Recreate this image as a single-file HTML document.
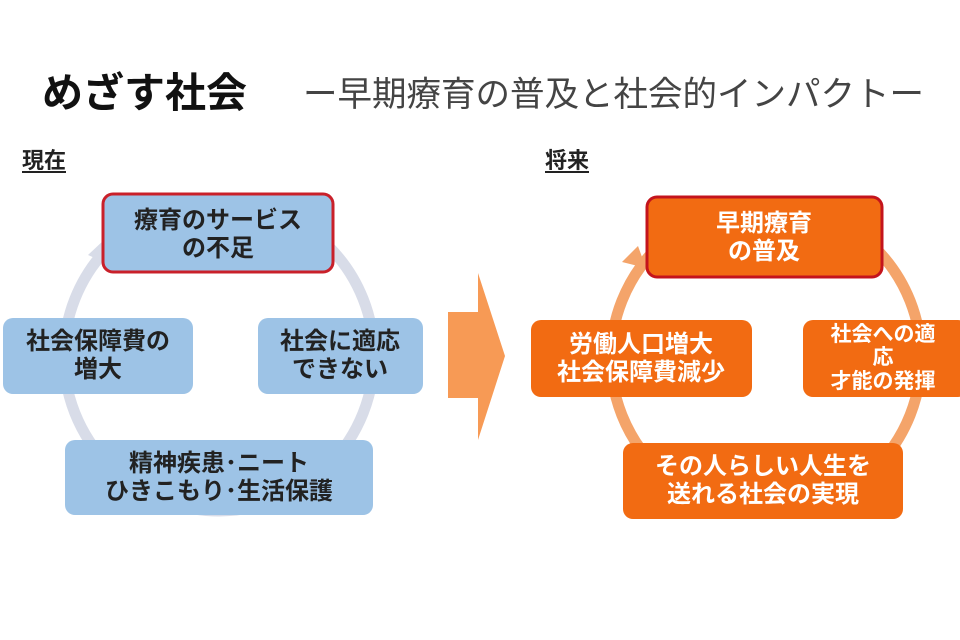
<!DOCTYPE html>
<html><head><meta charset="utf-8"><style>
body{margin:0;background:#fff;width:960px;height:640px;overflow:hidden}
svg{display:block}
text{font-family:"Liberation Sans","Noto Sans CJK JP",sans-serif}
</style></head><body>
<svg width="960" height="640" viewBox="0 0 960 640">
<text x="42" y="107" font-size="41" font-weight="bold" fill="#111">めざす社会</text>
<text x="303" y="106" font-size="34.5" fill="#444">ー早期療育の普及と社会的インパクトー</text>
<text x="22" y="168" font-size="22" font-weight="bold" fill="#222">現在</text>
<line x1="22" y1="172" x2="66" y2="172" stroke="#222" stroke-width="2"/>
<text x="545" y="168" font-size="22" font-weight="bold" fill="#222">将来</text>
<line x1="545" y1="172" x2="589" y2="172" stroke="#222" stroke-width="2"/>

<circle cx="219" cy="356" r="155" fill="none" stroke="#d8dce8" stroke-width="11"/>
<polygon points="88,255 104,240 104,262" fill="#d8dce8"/>
<rect x="103" y="194" width="230" height="78" rx="10" fill="#9dc3e6" stroke="#c9202a" stroke-width="3"/>
<text x="218" y="228" font-size="24" font-weight="bold" fill="#222" text-anchor="middle">療育のサービス</text>
<text x="218" y="256" font-size="24" font-weight="bold" fill="#222" text-anchor="middle">の不足</text>
<rect x="3" y="318" width="190" height="76" rx="10" fill="#9dc3e6"/>
<text x="98" y="349" font-size="24" font-weight="bold" fill="#222" text-anchor="middle">社会保障費の</text>
<text x="98" y="377" font-size="24" font-weight="bold" fill="#222" text-anchor="middle">増大</text>
<rect x="258" y="318" width="165" height="76" rx="10" fill="#9dc3e6"/>
<text x="340" y="349" font-size="24" font-weight="bold" fill="#222" text-anchor="middle">社会に適応</text>
<text x="340" y="377" font-size="24" font-weight="bold" fill="#222" text-anchor="middle">できない</text>
<rect x="65" y="440" width="308" height="75" rx="10" fill="#9dc3e6"/>
<text x="219" y="471" font-size="24" font-weight="bold" fill="#222" text-anchor="middle">精神疾患･ニート</text>
<text x="219" y="499" font-size="24" font-weight="bold" fill="#222" text-anchor="middle">ひきこもり･生活保護</text>

<polygon points="448,312 478,312 478,273 505,356 478,440 478,398 448,398" fill="#f79a55"/>

<circle cx="766" cy="358" r="155" fill="none" stroke="#f4a46a" stroke-width="11"/>
<polygon points="622,262 638,246 646,268" fill="#f4a46a"/>
<rect x="647" y="197" width="235" height="80" rx="10" fill="#f26b12" stroke="#c4141c" stroke-width="3"/>
<text x="764" y="231" font-size="24" font-weight="bold" fill="#fff" text-anchor="middle">早期療育</text>
<text x="764" y="259" font-size="24" font-weight="bold" fill="#fff" text-anchor="middle">の普及</text>
<rect x="531" y="320" width="221" height="77" rx="10" fill="#f26b12"/>
<text x="641" y="352" font-size="24" font-weight="bold" fill="#fff" text-anchor="middle">労働人口増大</text>
<text x="641" y="380" font-size="24" font-weight="bold" fill="#fff" text-anchor="middle">社会保障費減少</text>
<rect x="803" y="320" width="165" height="77" rx="10" fill="#f26b12"/>
<text x="883" y="341" font-size="21" font-weight="bold" fill="#fff" text-anchor="middle">社会への適</text>
<text x="883" y="364" font-size="21" font-weight="bold" fill="#fff" text-anchor="middle">応</text>
<text x="883" y="388" font-size="21" font-weight="bold" fill="#fff" text-anchor="middle">才能の発揮</text>
<rect x="623" y="443" width="280" height="76" rx="10" fill="#f26b12"/>
<text x="763" y="474" font-size="24" font-weight="bold" fill="#fff" text-anchor="middle">その人らしい人生を</text>
<text x="763" y="502" font-size="24" font-weight="bold" fill="#fff" text-anchor="middle">送れる社会の実現</text>
</svg>
</body></html>
